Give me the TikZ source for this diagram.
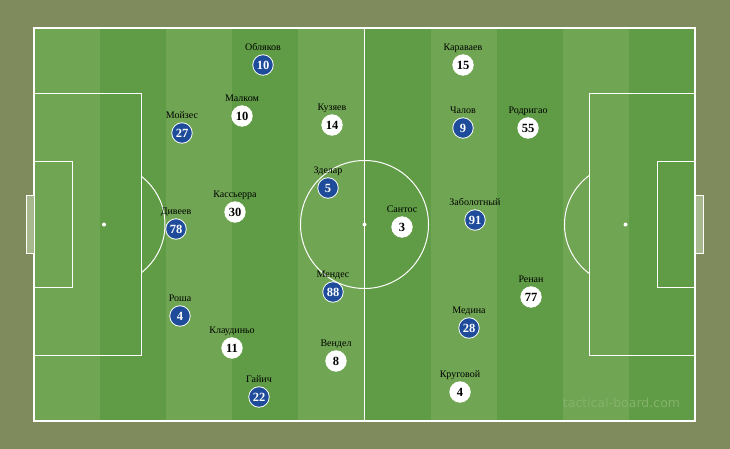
\documentclass[tikz,border=0pt]{standalone}
\usepackage{fontspec}
\setmainfont{Liberation Serif}
\newfontfamily\markfont{DejaVu Sans}
\usetikzlibrary{positioning}
\definecolor{olivebg}{HTML}{7F8B5D}
\definecolor{grasslight}{HTML}{70A653}
\definecolor{grassdark}{HTML}{5F9C45}
\definecolor{teamblue}{HTML}{1E4C9A}
\definecolor{goalgrey}{HTML}{A7B78E}
\definecolor{markgreen}{HTML}{84B26A}

\begin{document}
\begin{tikzpicture}[x=1pt, y=-1pt,
    pitchline/.style={draw=white, line width=1pt},
    blueplayer/.style={circle, fill=teamblue, draw=white, line width=0.8pt, text=white,
        minimum size=20.5pt, inner sep=0pt, font=\fontsize{12.5}{13}\selectfont\bfseries},
    whiteplayer/.style={circle, fill=white, draw=white, line width=0.8pt, text=black,
        minimum size=20.5pt, inner sep=0pt, font=\fontsize{12.5}{13}\selectfont\bfseries},
    lbl/.style={inner sep=1pt, text height=7pt, text depth=2pt, font=\fontsize{10}{12}\selectfont}]
    % background
    \fill[olivebg] (0,0) rectangle (730,449);
    \useasboundingbox (0,0) rectangle (730,449);

    % grass stripes
    \foreach \i in {0,...,9} {
        \pgfmathsetmacro{\xa}{34+66.1*\i}
        \pgfmathsetmacro{\xb}{34+66.1*(\i+1)}
        \ifodd\i
            \fill[grassdark] (\xa,28) rectangle (\xb,421);
        \else
            \fill[grasslight] (\xa,28) rectangle (\xb,421);
        \fi
    }

    % pitch markings
    \draw[pitchline, line width=1.4pt] (34,28) rectangle (695,421);
    \draw[pitchline] (364.5,28) -- (364.5,421);
    \draw[pitchline] (364.5,224.5) circle[radius=64];
    \fill[white] (364.5,224.5) circle[radius=2];

    % left end
    \draw[pitchline] (34,94) rectangle (141,355);
    \draw[pitchline] (34,162) rectangle (72.5,287);
    \draw[pitchline, fill=goalgrey] (26,195) rectangle (34,253.5);
    \fill[white] (104,224.5) circle[radius=2];
    \begin{scope}
        \clip (141,28) rectangle (220,421);
        \draw[pitchline] (104,224.5) circle[radius=61];
    \end{scope}

    % right end
    \draw[pitchline] (589,94) rectangle (695,355);
    \draw[pitchline] (657.5,162) rectangle (695,287);
    \draw[pitchline, fill=goalgrey] (695,195) rectangle (703,253.5);
    \fill[white] (625.5,224.5) circle[radius=2];
    \begin{scope}
        \clip (510,28) rectangle (589,421);
        \draw[pitchline] (625.5,224.5) circle[radius=61];
    \end{scope}

    % blue team
    \node[blueplayer] (oblyakov) at (263,65) {10};
    \node[blueplayer] (moyzes) at (182,133) {27};
    \node[blueplayer] (diveev) at (176,229) {78};
    \node[blueplayer] (rosha) at (180,316) {4};
    \node[blueplayer] (gaich) at (259,397) {22};
    \node[blueplayer] (zdelar) at (328,188) {5};
    \node[blueplayer] (mendes) at (333,292) {88};
    \node[blueplayer] (chalov) at (463,128) {9};
    \node[blueplayer] (zabolotny) at (475,220) {91};
    \node[blueplayer] (medina) at (469,328) {28};

    \node[lbl, above=0.5pt of oblyakov] (oblyakov-n) {Обляков};
    \node[lbl, above=0.5pt of moyzes] (moyzes-n) {Мойзес};
    \node[lbl, above=0.5pt of diveev] (diveev-n) {Дивеев};
    \node[lbl, above=0.5pt of rosha] (rosha-n) {Роша};
    \node[lbl, above=0.5pt of gaich] (gaich-n) {Гайич};
    \node[lbl, above=0.5pt of zdelar] (zdelar-n) {Зделар};
    \node[lbl, above=0.5pt of mendes] (mendes-n) {Мендес};
    \node[lbl, above=0.5pt of chalov] (chalov-n) {Чалов};
    \node[lbl, above=0.5pt of zabolotny] (zabolotny-n) {Заболотный};
    \node[lbl, above=0.5pt of medina] (medina-n) {Медина};

    % white team
    \node[whiteplayer] (malkom) at (242,116) {10};
    \node[whiteplayer] (kuzyaev) at (332,125) {14};
    \node[whiteplayer] (cassierra) at (235,212) {30};
    \node[whiteplayer] (klaudinyo) at (232,348) {11};
    \node[whiteplayer] (vendel) at (336,361) {8};
    \node[whiteplayer] (santos) at (402,227) {3};
    \node[whiteplayer] (karavaev) at (463,65) {15};
    \node[whiteplayer] (rodrigao) at (528,128) {55};
    \node[whiteplayer] (renan) at (531,297) {77};
    \node[whiteplayer] (krugovoy) at (460,392) {4};

    \node[lbl, above=0.5pt of malkom] (malkom-n) {Малком};
    \node[lbl, above=0.5pt of kuzyaev] (kuzyaev-n) {Кузяев};
    \node[lbl, above=0.5pt of cassierra] (cassierra-n) {Кассьерра};
    \node[lbl, above=0.5pt of klaudinyo] (klaudinyo-n) {Клаудиньо};
    \node[lbl, above=0.5pt of vendel] (vendel-n) {Вендел};
    \node[lbl, above=0.5pt of santos] (santos-n) {Сантос};
    \node[lbl, above=0.5pt of karavaev] (karavaev-n) {Караваев};
    \node[lbl, above=0.5pt of rodrigao] (rodrigao-n) {Родригао};
    \node[lbl, above=0.5pt of renan] (renan-n) {Ренан};
    \node[lbl, above=0.5pt of krugovoy] (krugovoy-n) {Круговой};

    % watermark
    \node[text=markgreen, font=\markfont\fontsize{12.5}{13}\selectfont] (mark) at (621.5,403) {tactical-board.com};
\end{tikzpicture}
\end{document}
